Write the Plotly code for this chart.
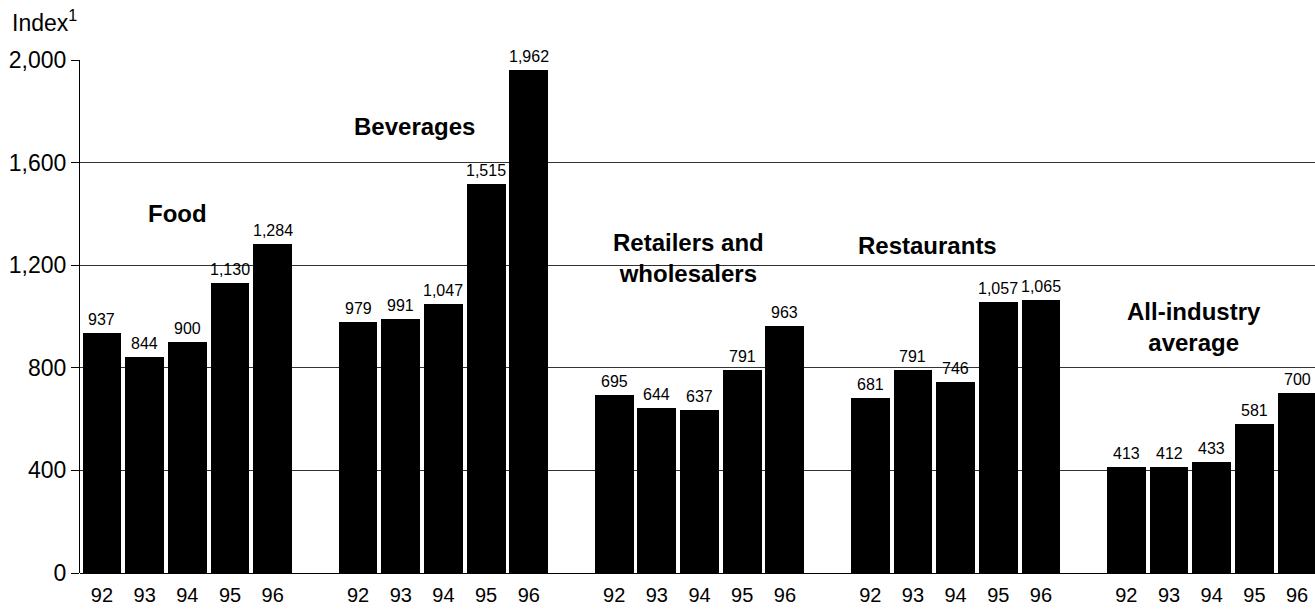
import plotly.graph_objects as go

# Index values by industry, 1992-1996
years = ["92", "93", "94", "95", "96"]
groups = ["Food", "Beverages", "Retailers and<br>wholesalers", "Restaurants", "All-industry<br>average"]
food = [937, 844, 900, 1130, 1284]
beverages = [979, 991, 1047, 1515, 1962]
retailers = [695, 644, 637, 791, 963]
restaurants = [681, 791, 746, 1057, 1065]
all_industry = [413, 412, 433, 581, 700]
series = [food, beverages, retailers, restaurants, all_industry]

# where each group's name sits (x in bar slots, y in index units)
label_pos = [(1.78, 1403), (7.33, 1739), (13.73, 1230), (19.35, 1275), (25.59, 961)]

GROUP_STEP = 6  # five bars plus one empty slot between groups
FONT = "Liberation Sans, Arial, sans-serif"

fig = go.Figure()
tickvals, ticktext = [], []
for g, vals in enumerate(series):
    xs = [GROUP_STEP * g + j for j in range(len(years))]
    tickvals += xs
    ticktext += years
    fig.add_trace(go.Bar(
        x=xs, y=vals, width=0.91,
        marker=dict(color="black", line=dict(width=0)),
        cliponaxis=False, showlegend=False, hoverinfo="skip",
    ))
    # value labels above each bar
    for x, v in zip(xs, vals):
        fig.add_annotation(
            x=x, y=v, xref="x", yref="y", text=f"{v:,}", showarrow=False,
            xanchor="center", yanchor="bottom", yshift=3,
            font=dict(size=16, color="black", family=FONT),
        )

for name, (lx, ly) in zip(groups, label_pos):
    fig.add_annotation(
        x=lx, y=ly, xref="x", yref="y", text=f"<b>{name}</b>", showarrow=False,
        font=dict(size=24, color="black", family=FONT),
        xanchor="center", yanchor="middle", align="center",
    )

fig.add_annotation(
    xref="paper", yref="paper", x=0, y=1, xanchor="left", yanchor="bottom",
    xshift=-70, yshift=22, text="Index<sup>1</sup>", showarrow=False,
    font=dict(size=23, color="black", family=FONT),
)

fig.update_layout(
    width=1315, height=610,
    margin=dict(l=80, r=0, t=60, b=37),
    plot_bgcolor="white", paper_bgcolor="white",
    bargap=0,
    font=dict(family=FONT, color="black"),
    xaxis=dict(
        range=[-0.515, 28.42], tickvals=tickvals, ticktext=ticktext,
        showgrid=False, zeroline=False, showline=False, ticks="",
        ticklabelstandoff=8,
        tickfont=dict(size=20, color="black"),
    ),
    yaxis=dict(
        range=[0, 2000], tickvals=[0, 400, 800, 1200, 1600, 2000],
        tickformat=",", showgrid=True, gridcolor="#333333", gridwidth=1,
        zeroline=True, zerolinecolor="black", zerolinewidth=1,
        showline=True, linecolor="black", linewidth=1,
        ticks="outside", ticklen=8, tickcolor="black",
        tickfont=dict(size=23, color="black"),
    ),
)

fig.write_html("out.html")
